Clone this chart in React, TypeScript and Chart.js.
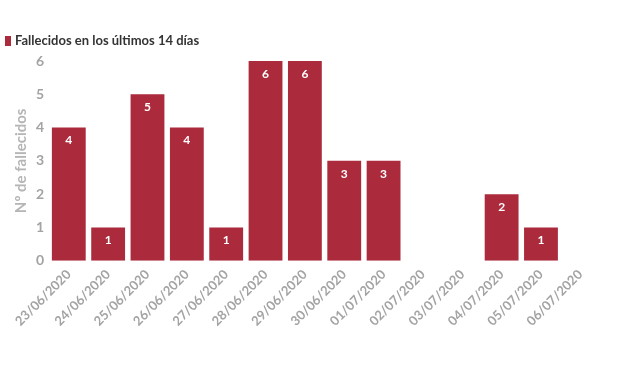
import React, { useEffect, useRef } from "react";
import { Chart, registerables } from "chart.js";

Chart.register(...registerables);

const categories = ["23/06/2020", "24/06/2020", "25/06/2020", "26/06/2020", "27/06/2020", "28/06/2020", "29/06/2020", "30/06/2020", "01/07/2020", "02/07/2020", "03/07/2020", "04/07/2020", "05/07/2020", "06/07/2020"];
const deaths = [4, 1, 5, 4, 1, 6, 6, 3, 3, 0, 0, 2, 1, 0];
const seriesName = "Fallecidos en los últimos 14 días";
const yTitle = "Nº de fallecidos";

const FONT = "Lato, 'Open Sans', sans-serif";
const BAR = "#ab2b3d";
const GREY = "#a3a3a3";

const labelPlugin = {
  id: "barLabels",
  afterDatasetsDraw(chart: any) {
    const ctx = chart.ctx;
    const meta = chart.getDatasetMeta(0);
    ctx.save();
    ctx.fillStyle = "#ffffff";
    ctx.font = `bold 12px ${FONT}`;
    ctx.textAlign = "center";
    ctx.textBaseline = "middle";
    meta.data.forEach((bar: any, i: number) => {
      const v = deaths[i];
      if (!v) return;
      ctx.fillText(String(v), bar.x, bar.y + 13);
    });
    ctx.restore();
  },
};

const legendPlugin = {
  id: "topLegend",
  afterDraw(chart: any) {
    const ctx = chart.ctx;
    const ds = chart.data.datasets[0];
    ctx.save();
    ctx.fillStyle = ds.backgroundColor;
    ctx.fillRect(5, 36, 6, 10);
    ctx.fillStyle = "#333333";
    ctx.font = `bold 13px ${FONT}`;
    ctx.textAlign = "left";
    ctx.textBaseline = "middle";
    ctx.fillText(ds.label, 15, 41);
    ctx.restore();
  },
};

export default function App() {
  const ref = useRef<HTMLCanvasElement>(null);
  useEffect(() => {
    if (!ref.current) return;
    const chart = new Chart(ref.current, {
      type: "bar",
      data: {
        labels: categories,
        datasets: [
          {
            label: seriesName,
            data: deaths,
            backgroundColor: BAR,
            borderWidth: 0,
            categoryPercentage: 0.86,
            barPercentage: 1,
          },
        ],
      },
      options: {
        animation: false,
        responsive: false,
        maintainAspectRatio: false,
        layout: { padding: { left: 14, right: 20, top: 61, bottom: 33 } },
        plugins: {
          tooltip: { enabled: false },
          legend: { display: false },
        },
        scales: {
          x: {
            grid: { display: false, drawTicks: false },
            border: { display: false },
            afterFit: (s: any) => {
              s.paddingLeft = 0;
            },
            ticks: {
              color: GREY,
              minRotation: 45,
              maxRotation: 45,
              autoSkip: false,
              padding: 6,
              font: { family: FONT, size: 13, weight: "bold" },
            },
          },
          y: {
            min: 0,
            max: 6,
            grid: { display: false, drawTicks: false },
            border: { display: false },
            ticks: {
              stepSize: 1,
              color: GREY,
              padding: 5,
              font: { family: FONT, size: 14, weight: "bold" },
            },
            title: {
              display: true,
              text: yTitle,
              color: "#b5b5b5",
              padding: { top: 0, bottom: 2 },
              font: { family: FONT, size: 15, weight: "bold", lineHeight: 1 },
            },
          },
        },
      },
      plugins: [labelPlugin, legendPlugin],
    });
    return () => chart.destroy();
  }, []);
  return (
    <div style={{ position: "fixed", left: 0, top: 0, width: 620, height: 368, background: "#fff" }}>
      <canvas ref={ref} width={620} height={368} style={{ width: 620, height: 368 }} />
    </div>
  );
}
